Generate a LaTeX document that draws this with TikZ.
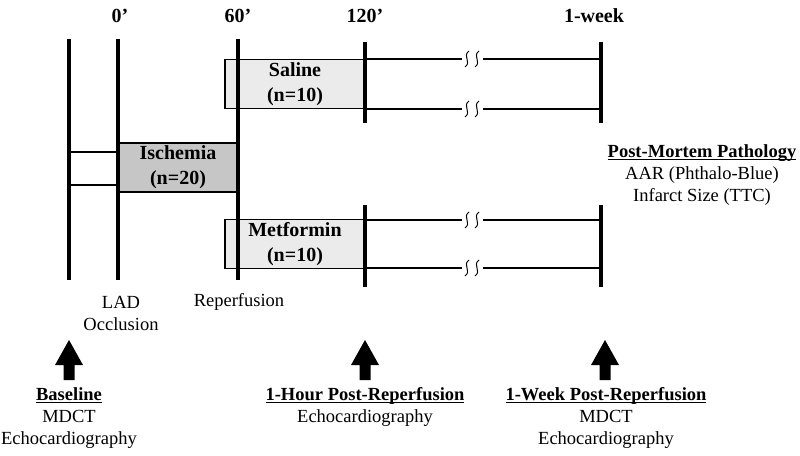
\documentclass[tikz,border=0pt]{standalone}
\usepackage{fontspec}
\setmainfont{Liberation Serif}
\usetikzlibrary{positioning}
\definecolor{ischgray}{HTML}{C6C6C6}
\definecolor{druggray}{HTML}{EBEBEB}
\newcommand{\ulhead}[1]{\underline{\raisebox{0pt}[\height][0pt]{\textbf{#1}}}}

\begin{document}
\begin{tikzpicture}[x=1pt,y=-1pt,
    bar/.style={line width=4.5pt},
    rail/.style={line width=1.8pt},
    grpbox/.style={draw,rail,minimum width=#1,minimum height=49pt,inner sep=0pt,
        align=center,font=\fontsize{20}{25}\selectfont\bfseries},
    tick/.style={font=\fontsize{20}{24}\selectfont\bfseries},
    note/.style={align=center,inner sep=0pt,font=\fontsize{18.5}{22}\selectfont}]
    \useasboundingbox (0,0) rectangle (800,455);

    % groups
    \node[grpbox=120pt,fill=ischgray] (isch) at (178,167.5) {Ischemia\\(n=20)};
    \node[grpbox=140pt,fill=druggray] (sal) at (295,84) {Saline\\(n=10)};
    \node[grpbox=140pt,fill=druggray] (met) at (295,244) {Metformin\\(n=10)};

    % follow-up lines with breaks
    \foreach \y in {59,109,220,268} {
        \draw[rail] (365,\y) -- (462,\y);
        \draw[rail] (483,\y) -- (601,\y);
        \foreach \x in {467,477}
            \draw[line width=1pt] (\x+2,\y-8) .. controls (\x-5,\y-3) and (\x+5,\y+3) .. (\x-2,\y+8);
    }
    \draw[rail] (69,152) -- (isch.west |- 0,152);
    \draw[rail] (69,185) -- (isch.west |- 0,185);

    % time points
    \coordinate (b1) at (69,39);   \coordinate (b2) at (69,280);
    \coordinate (o1) at (118,39);  \coordinate (o2) at (118,280);
    \coordinate (r1) at (238,39);  \coordinate (r2) at (238,280);
    \draw[bar] (b1) -- (b2);
    \draw[bar] (o1) -- (o2);
    \draw[bar] (r1) -- (r2);
    \draw[bar] (365,42) -- (365,123);
    \draw[bar] (365,205) -- (365,287);
    \draw[bar] (601,42) -- (601,123);
    \draw[bar] (601,205) -- (601,287);

    \node[tick] (t0) at (120,16) {0’};
    \node[tick] (t60) at (238,16) {60’};
    \node[tick] (t120) at (365,16) {120’};
    \node[tick] (tw) at (594,16) {1-week};

    \node[note] (lad) at (121,313) {LAD\\Occlusion};
    \node[note] (rep) at (239,302) {Reperfusion};
    \node[note] (pm) at (702,175) {\ulhead{Post-Mortem Pathology}\\AAR (Phthalo-Blue)\\Infarct Size (TTC)};

    % imaging
    \foreach \x in {69,365,605}
        \fill (\x,340) -- (\x+14,365) -- (\x+5.5,365) -- (\x+5.5,380)
            -- (\x-5.5,380) -- (\x-5.5,365) -- (\x-14,365) -- cycle;
    \node[note] (base) at (69,418) {\ulhead{Baseline}\\MDCT\\Echocardiography};
    \node[note] (hour) at (365,407) {\ulhead{1-Hour Post-Reperfusion}\\Echocardiography};
    \node[note] (week) at (606,418) {\ulhead{1-Week Post-Reperfusion}\\MDCT\\Echocardiography};
\end{tikzpicture}
\end{document}
